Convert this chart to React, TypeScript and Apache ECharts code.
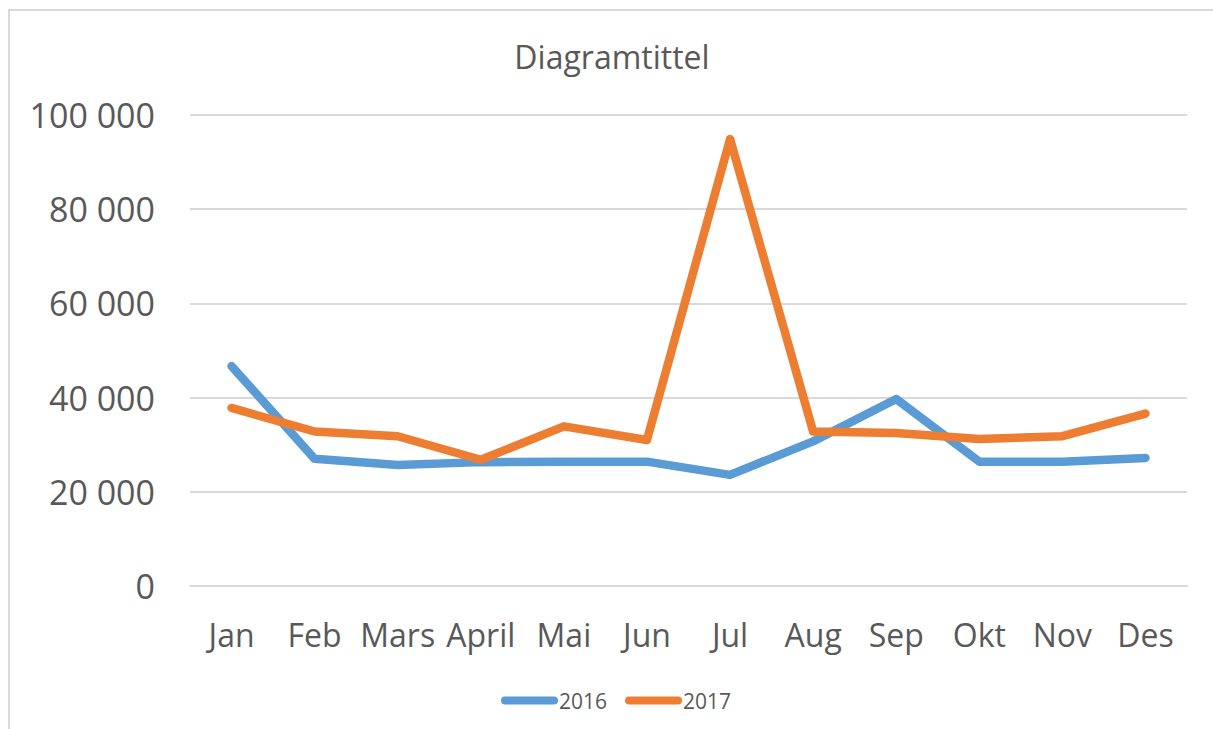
import React, { useEffect, useRef } from "react";
import * as echarts from "echarts";

const categories = ["Jan", "Feb", "Mars", "April", "Mai", "Jun", "Jul", "Aug", "Sep", "Okt", "Nov", "Des"];
const series2016 = [46700, 27000, 25700, 26300, 26400, 26400, 23600, 30700, 39700, 26400, 26400, 27200];
const series2017 = [37800, 32800, 31800, 26800, 33900, 31000, 94900, 32800, 32500, 31200, 31800, 36600];
const titleText = "Diagramtittel";

const FONT = "'Open Sans', 'Noto Sans', sans-serif";
const GREY = "#595959";

function fmt(v: number): string {
  return String(v).replace(/\B(?=(\d{3})+(?!\d))/g, " ");
}

const legendIcon = "path://M4,0 L53,0 A4,4 0 0 1 53,8 L4,8 A4,4 0 0 1 4,0 Z";

export default function App() {
  const ref = useRef<HTMLDivElement>(null);
  useEffect(() => {
    if (!ref.current) return;
    const chart = echarts.init(ref.current, undefined, { renderer: "svg" });
    chart.setOption({
      animation: false,
      backgroundColor: "#ffffff",
      graphic: [
        {
          type: "rect",
          shape: { x: 9, y: 10, width: 1400, height: 900 },
          style: { fill: "none", stroke: "#d9d9d9", lineWidth: 2 },
          silent: true,
        },
      ],
      title: {
        text: titleText,
        left: 607,
        top: 35,
        textAlign: "center",
        textStyle: { fontFamily: FONT, fontSize: 32, fontWeight: "normal", color: GREY },
      },
      legend: {
        data: ["2016", "2017"],
        left: 496,
        top: 685,
        icon: legendIcon,
        itemWidth: 57,
        itemHeight: 8,
        itemGap: 18,
        textStyle: { fontFamily: FONT, fontSize: 21, color: GREY, padding: [0, 0, 0, -4] },
      },
      grid: { left: 190, right: 26, top: 115, bottom: 143, containLabel: false },
      xAxis: {
        type: "category",
        data: categories,
        boundaryGap: true,
        axisLine: { show: true, lineStyle: { color: "#d9d9d9", width: 2 } },
        axisTick: { show: false },
        axisLabel: { fontFamily: FONT, fontSize: 32, color: GREY, margin: 32, interval: 0 },
      },
      yAxis: {
        type: "value",
        min: 0,
        max: 100000,
        interval: 20000,
        axisLine: { show: false },
        axisTick: { show: false },
        splitLine: { lineStyle: { color: "#d9d9d9", width: 2 } },
        axisLabel: { fontFamily: FONT, fontSize: 34, color: GREY, margin: 35, formatter: (v: number) => fmt(v) },
      },
      series: [
        {
          name: "2016",
          type: "line",
          data: series2016,
          showSymbol: false,
          symbol: "none",
          lineStyle: { color: "#5b9bd5", width: 8.5, cap: "round", join: "round" },
          itemStyle: { color: "#5b9bd5" },
        },
        {
          name: "2017",
          type: "line",
          data: series2017,
          showSymbol: false,
          symbol: "none",
          lineStyle: { color: "#ed7d31", width: 8.5, cap: "round", join: "round" },
          itemStyle: { color: "#ed7d31" },
        },
      ],
    });
    return () => chart.dispose();
  }, []);
  return (
    <div
      ref={ref}
      style={{ position: "fixed", left: 0, top: 0, width: 1213, height: 729 }}
    />
  );
}
